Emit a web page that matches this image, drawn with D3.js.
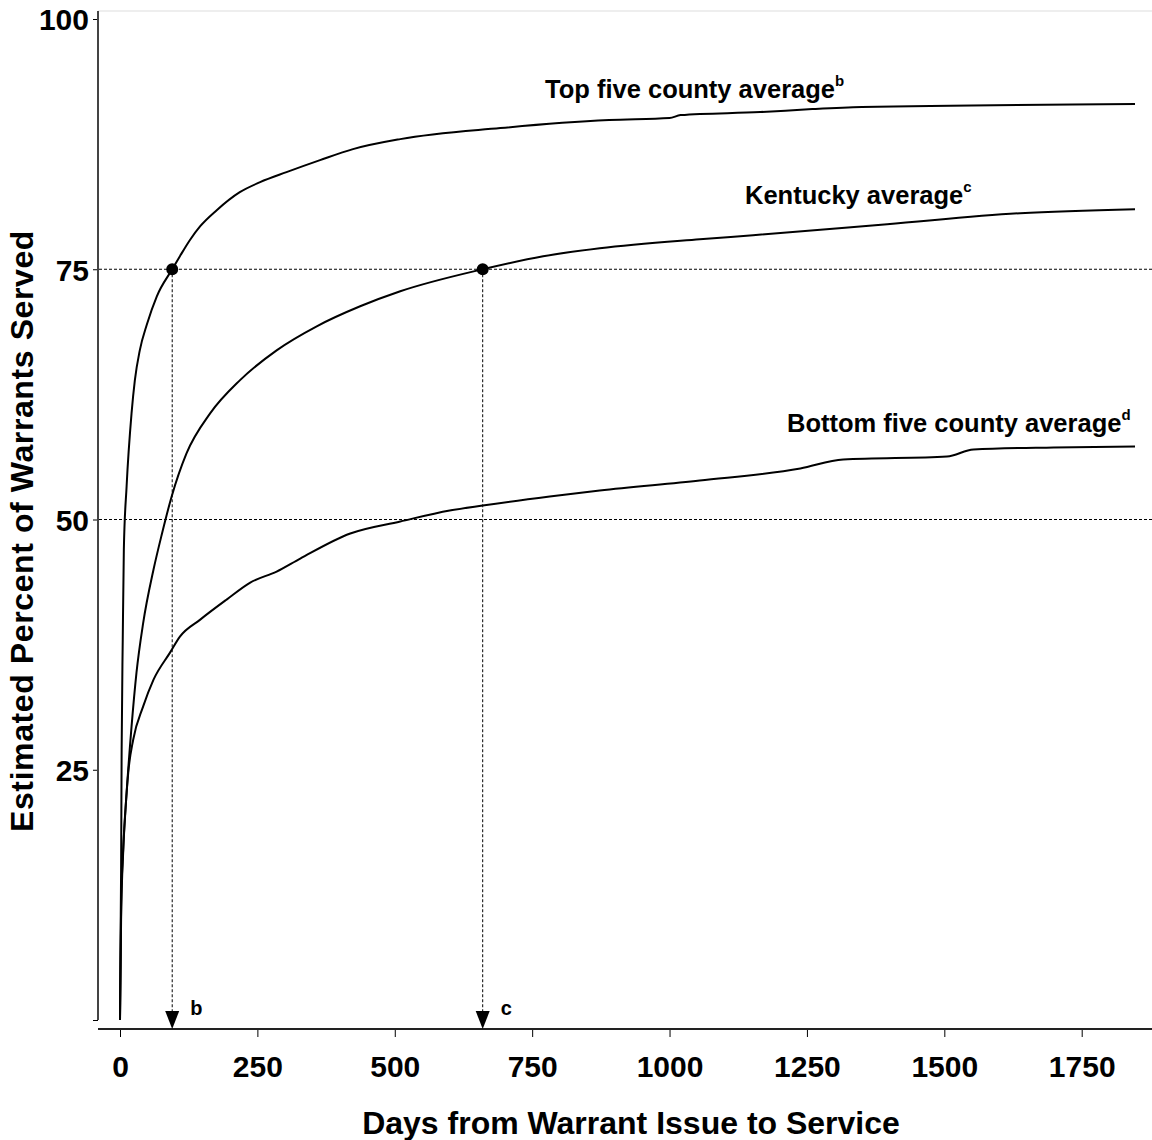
<!DOCTYPE html>
<html><head><meta charset="utf-8">
<script src="https://cdn.jsdelivr.net/npm/d3@7"></script>
<style>body{margin:0;background:#fff;}svg{display:block;font-family:"Liberation Sans",Arial,sans-serif;}</style>
</head><body>
<script>
// Data (days, percent served)
const topFiveDays = [0,1,2,3,5,7,12,21,27,36,49,67,95,109,127,146,176,218,255,303,364,424,510,692,890,1000,1020,1165,1260,1350,1847];
const topFiveVals = [0,8,15,27,38,47,53.3,60.6,63.9,66.9,69.5,72.3,75,76.3,77.9,79.3,80.9,82.7,83.7,84.7,85.9,87.0,88.0,89.1,89.9,90.1,90.4,90.7,91.0,91.2,91.5];
const kentuckyDays = [0,2,6,12,21,30,42,61,76,94,121,164,218,285,358,437,510,660,770,873,1055,1152,1396,1638,1847];
const kentuckyVals = [0,11.3,17.3,22.7,29.3,34.7,39.6,45.0,48.5,52.3,56.6,60.6,63.9,66.9,69.3,71.3,72.8,75,76.3,77.1,78.0,78.4,79.5,80.6,81.0];
const bottomFiveDays = [0,2,6,10,15,24,42,61,91,109,146,194,237,285,328,419,510,600,660,782,873,1055,1238,1316,1505,1553,1699,1847];
const bottomFiveVals = [0,10,17,21,24.7,28,31.3,34,36.7,38.3,40,42,43.7,44.8,46.1,48.6,49.8,50.9,51.4,52.3,52.9,53.9,55.1,56.0,56.3,57.0,57.2,57.3];
const xTicks = [0,250,500,750,1000,1250,1500,1750];
const yTicks = [0,25,50,75,100];
const yTickLabels = ["","25","50","75","100"];
const refLevels = [75,50];
const markerDays = [95,660];
const markerLetters = ["b","c"];
const seriesLabels = ["Top five county average","Kentucky average","Bottom five county average"];
const seriesSup = ["b","c","d"];

const W=1152,H=1140;
const svg=d3.select("body").append("svg").attr("width",W).attr("height",H);
const x=d3.scaleLinear().domain([0,1750]).range([120,1081.7]);
const y=d3.scaleLinear().domain([0,100]).range([1020,19]);

// top light border
svg.append("line").attr("x1",98).attr("x2",W).attr("y1",11).attr("y2",11).attr("stroke","#ddd").attr("stroke-width",1);

// reference dashed lines
svg.selectAll(".ref").data(refLevels).join("line")
  .attr("x1",99).attr("x2",W).attr("y1",d=>y(d)).attr("y2",d=>y(d))
  .attr("stroke","#000").attr("stroke-width",1).attr("stroke-dasharray","3,2");

// y axis
const yAxis=d3.axisLeft(y).tickValues(yTicks).tickSize(5).tickFormat((d,i)=>yTickLabels[i]);
const gy=svg.append("g").attr("transform","translate(98,0)").call(yAxis);
gy.select(".domain").remove();
gy.append("line").attr("x1",0).attr("x2",0).attr("y1",11).attr("y2",1020).attr("stroke","#444").attr("stroke-width",2);
gy.selectAll(".tick line").attr("stroke","#000").attr("stroke-width",1);
gy.selectAll(".tick text").attr("font-size",30).attr("font-weight","bold").attr("fill","#000").attr("x",-9).attr("dy","0.36em");

// x axis
const xAxis=d3.axisBottom(x).tickValues(xTicks).tickSize(8).tickFormat(d3.format("d"));
const gx=svg.append("g").attr("transform","translate(0,1029)").call(xAxis);
gx.select(".domain").remove();
gx.append("line").attr("x1",98).attr("x2",W).attr("y1",0).attr("y2",0).attr("stroke","#222").attr("stroke-width",2);
gx.selectAll(".tick line").attr("stroke","#000").attr("stroke-width",1);
gx.selectAll(".tick text").attr("font-size",30).attr("font-weight","bold").attr("fill","#000").attr("y",27).attr("dy","0.71em");

// axis titles
svg.append("text").attr("x",631).attr("y",1134).attr("text-anchor","middle")
  .attr("font-size",32).attr("font-weight","bold").text("Days from Warrant Issue to Service");
svg.append("text").attr("transform","translate(33,531) rotate(-90)").attr("text-anchor","middle")
  .attr("font-size",32).attr("font-weight","bold").attr("letter-spacing",0.6).text("Estimated Percent of Warrants Served");

// curves
const line=d3.line().x(d=>x(d[0])).y(d=>y(d[1])).curve(d3.curveMonotoneX);
const series=[
  d3.zip(topFiveDays,topFiveVals),
  d3.zip(kentuckyDays,kentuckyVals),
  d3.zip(bottomFiveDays,bottomFiveVals)
];
svg.selectAll(".curve").data(series).join("path")
  .attr("d",line).attr("fill","none").attr("stroke","#000").attr("stroke-width",2);

// marker drop lines
svg.selectAll(".drop").data(markerDays).join("line")
  .attr("x1",d=>x(d)).attr("x2",d=>x(d)).attr("y1",y(75)).attr("y2",1014)
  .attr("stroke","#000").attr("stroke-width",1).attr("stroke-dasharray","3,2");
svg.selectAll(".arrow").data(markerDays).join("path")
  .attr("d",d=>`M${x(d)-7},1011L${x(d)+7},1011L${x(d)},1029Z`).attr("fill","#000");
svg.selectAll(".dot").data(markerDays).join("circle")
  .attr("cx",d=>x(d)).attr("cy",y(75)).attr("r",6).attr("fill","#000");
svg.selectAll(".mlet").data(markerDays).join("text")
  .attr("x",d=>x(d)+18).attr("y",1015).attr("font-size",20).attr("font-weight","bold")
  .text((d,i)=>markerLetters[i]);

// series labels
const labelPos=[[545,98],[745,204],[787,432]];
seriesLabels.forEach((s,i)=>{
  const t=svg.append("text").attr("x",labelPos[i][0]).attr("y",labelPos[i][1])
    .attr("font-size",25.5).attr("font-weight","bold").attr("fill","#000");
  t.append("tspan").text(s);
  t.append("tspan").attr("font-size",15).attr("dy",-12).text(seriesSup[i]);
});
</script>
</body></html>
